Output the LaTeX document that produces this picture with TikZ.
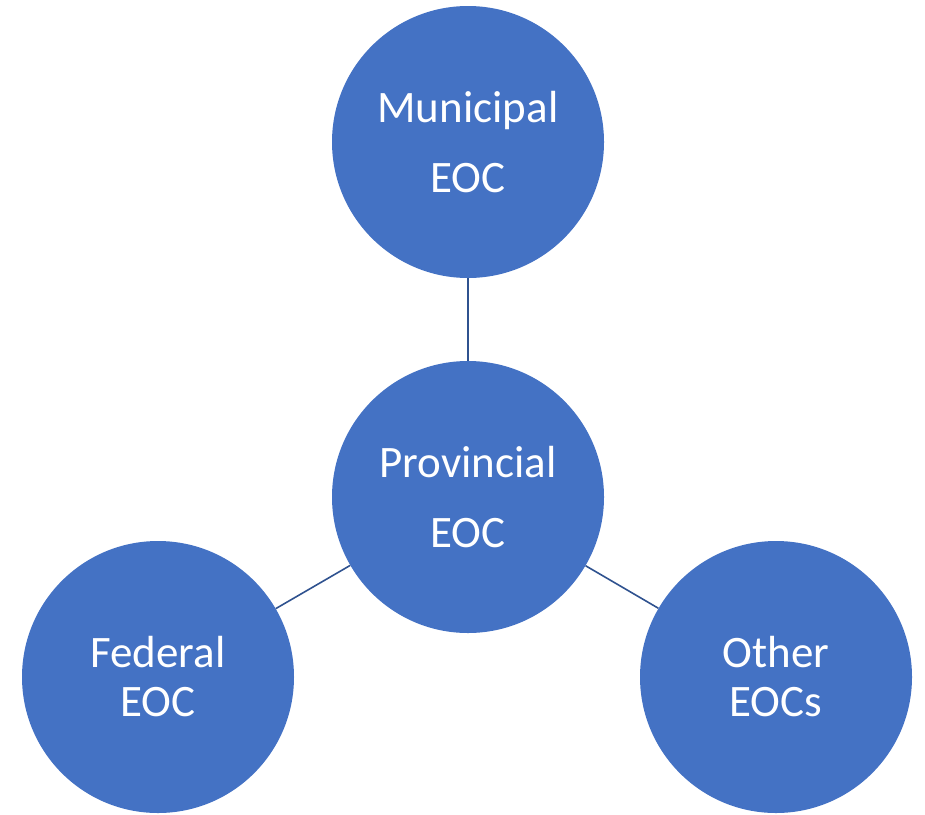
\documentclass[tikz,border=0pt]{standalone}
\usepackage{fontspec}
\setmainfont{Carlito}
\definecolor{circfill}{HTML}{4472C4}
\definecolor{connline}{HTML}{2F528F}
\tikzset{
  eoc/.style={circle, fill=circfill, draw=none, minimum size=272pt, inner sep=0pt,
    text=white, align=center, font=\fontsize{45}{49}\selectfont},
  conn/.style={draw=connline, line width=1.6pt}
}
\begin{document}
\begin{tikzpicture}[x=1pt,y=-1pt]
\useasboundingbox (0,0) rectangle (925,814);
\node[eoc] (mun) at (468,142) {Municipal\\[21pt]EOC};
\node[eoc] (prov) at (468,497) {Provincial\\[21pt]EOC};
\node[eoc] (fed) at (158,677) {Federal\\EOC};
\node[eoc] (oth) at (776,677) {Other\\EOCs};
\draw[conn] (mun) -- (prov);
\draw[conn] (fed) -- (prov);
\draw[conn] (oth) -- (prov);
\end{tikzpicture}
\end{document}
